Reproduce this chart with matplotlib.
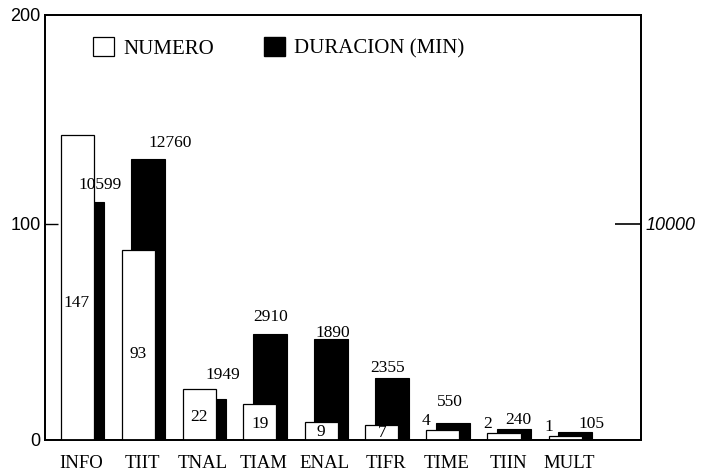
import numpy as np
import matplotlib
matplotlib.use("Agg")
import matplotlib.pyplot as plt
from matplotlib.patches import Patch

# categorias y valores rotulados en la grafica
categorias = ['INFO', 'TIIT', 'TNAL', 'TIAM', 'ENAL', 'TIFR', 'TIME', 'TIIN', 'MULT']
numero_rotulo = [147, 93, 22, 19, 9, 7, 4, 2, 1]
duracion_rotulo = [10599, 12760, 1949, 2910, 1890, 2355, 550, 240, 105]

# alturas tal como estan dibujadas (eje izq. 0-200, eje der. en minutos)
numero_alto = [141, 88, 23.5, 16.5, 8.2, 7, 4.6, 3.4, 2.0]
duracion_alto = [11020, 13000, 1880, 4890, 4660, 2880, 770, 500, 360]

# desplazamiento (px) de los rotulos de duracion respecto al tope de la barra
dur_dx = [13, 22, 14, 1, 2, -4, -3, 4, 16]
dur_dy = [17, 16, 24, 17, 6, 10, 21, 9, 8]

serif = 'Liberation Serif'
sans = 'Liberation Sans'

fig = plt.figure(figsize=(7.02, 4.72), dpi=100)
ax = fig.add_axes([45 / 702, 1 - 440 / 472, 596 / 702, 425 / 472])
ax2 = ax.twinx()
ax.set_zorder(ax2.get_zorder() + 1)
ax.patch.set_visible(False)

x = np.arange(len(categorias))
w_ancho = 33 / 61
d_ancho = 34 / 61
d_off = 10 / 61

ymax = 425 / 2.16
ax.set_ylim(0, ymax)
ax2.set_ylim(0, ymax * 100)
ax.set_xlim(-32 / 61, 564 / 61)

ax2.bar(x + d_off, duracion_alto, d_ancho, color='black', edgecolor='black', linewidth=0.8)
ax.bar(x, numero_alto, w_ancho, color='white', edgecolor='black', linewidth=0.9)

# rotulos NUMERO
for i, (h, lab) in enumerate(zip(numero_alto, numero_rotulo)):
    if h > 5:
        ax.text(x[i], h * 0.45, str(lab), ha='center', va='center',
                family=serif, fontsize=12.5)
    else:
        ax.annotate(str(lab), (x[i] - w_ancho / 2, h), xytext=(0, 9),
                    textcoords='offset pixels', ha='center', va='center',
                    family=serif, fontsize=12.5)

# rotulos DURACION (en el eje de arriba para que no los tape la barra blanca)
for i, (h, lab) in enumerate(zip(duracion_alto, duracion_rotulo)):
    ax.annotate(str(lab), (x[i] + d_off, h), xycoords=ax2.transData,
                xytext=(dur_dx[i], dur_dy[i]),
                textcoords='offset pixels', ha='center', va='center',
                family=serif, fontsize=12.5)

# ejes
ax.set_xticks(x + 4 / 61)
ax.set_xticklabels(categorias, family=serif, fontsize=13.5)
ax.tick_params(axis='x', length=0, pad=11)

ax.set_yticks([0, 100, ymax])
ax.set_yticklabels(['0', '100', '200'], family=sans, fontsize=13)
ax.tick_params(axis='y', direction='in', length=9, width=1, pad=3)
ax.yaxis.get_major_ticks()[0].tick1line.set_visible(False)
ax.yaxis.get_major_ticks()[2].tick1line.set_visible(False)

ax2.set_yticks([10000])
ax2.set_yticklabels(['10000'], family=sans, style='italic', fontsize=13)
ax2.tick_params(axis='y', direction='in', length=19, width=1.2, pad=3)

for a in (ax, ax2):
    for s in a.spines.values():
        s.set_linewidth(1.3)
        s.set_color('black')

# leyenda
handles = [Patch(facecolor='white', edgecolor='black', linewidth=0.9),
           Patch(facecolor='black', edgecolor='black')]
ax.legend(handles, ['NUMERO', 'DURACION (MIN)'], ncol=2, frameon=False,
          loc='center left', bbox_to_anchor=(48 / 596, 392 / 425),
          prop={'family': serif, 'size': 15}, handlelength=1.0,
          handleheight=1.0, handletextpad=0.45, columnspacing=2.4,
          borderpad=0, borderaxespad=0)

fig.savefig('out.png', dpi=100)
